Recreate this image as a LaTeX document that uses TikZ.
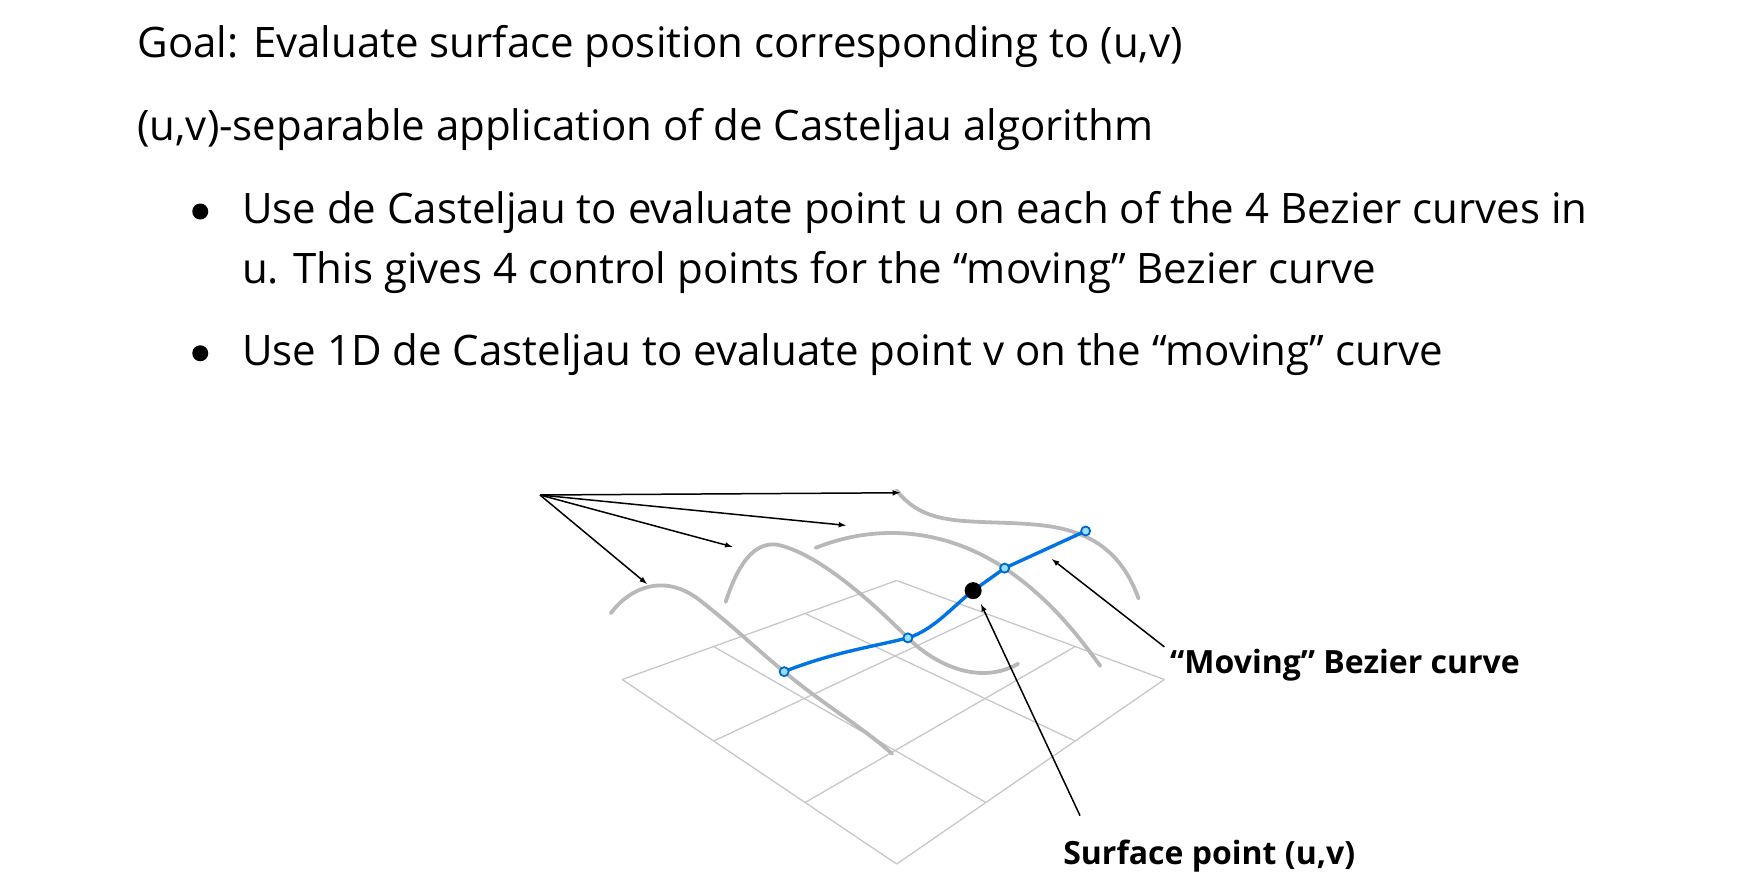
\documentclass[tikz,border=0pt]{standalone}
\usepackage{fontspec}
\setmainfont{Open Sans}
\usetikzlibrary{calc}
\begin{document}
\begin{tikzpicture}[x=1.125pt,y=-1.125pt,
  txt/.style={anchor=base west,inner sep=0,font=\fontsize{42}{48}\selectfont},
  lbl/.style={anchor=base west,inner sep=0,font=\fontsize{32}{36}\selectfont\bfseries},
  gridl/.style={draw=black!22,line width=1.3pt},
  gc/.style={draw=black!28,line width=3.8pt,line cap=round},
  ar/.style={-latex,line width=1.5pt},
  bul/.style={circle,fill=black,inner sep=0,minimum size=16pt},
  ring/.style={circle,draw=blue!50!cyan!80!black,fill=blue!30!cyan!40,line width=1.8pt,inner sep=0,minimum size=9pt}]
\useasboundingbox (0,0) rectangle (1560,777);
\node[txt] (t1) at (122,51) {Goal: Evaluate surface position corresponding to (u,v)};
\node[txt] (t2) at (122,125) {(u,v)-separable application of de Casteljau algorithm};
\node[bul] (b1) at (178,188) {};
\node[txt] (t3) at (215,199) {Use de Casteljau to evaluate point u on each of the 4 Bezier curves in};
\node[txt] (t4) at (215,252) {u. This gives 4 control points for the “moving” Bezier curve};
\node[bul] (b2) at (178,314) {};
\node[txt] (t5) at (215,325) {Use 1D de Casteljau to evaluate point v on the “moving” curve};
% grid
\coordinate (L) at (553,604); \coordinate (T) at (797,516);
\coordinate (R) at (1035,604); \coordinate (B) at (797,768);
\foreach \i in {0,1,2,3}{
  \draw[gridl] ($(L)!\i/3!(B)$) -- ($(T)!\i/3!(R)$);
  \draw[gridl] ($(L)!\i/3!(T)$) -- ($(B)!\i/3!(R)$);
}
% gray curves
\draw[gc] (543,545) .. controls (560,522) and (590,510) .. (620,532) .. controls (650,555) and (670,575) .. (697,597) .. controls (730,625) and (765,645) .. (793,670);
\draw[gc] (645,535) .. controls (655,505) and (668,482) .. (690,484) .. controls (720,490) and (760,520) .. (807,567) .. controls (830,590) and (870,610) .. (905,590);
\draw[gc] (725,487) .. controls (780,465) and (840,470) .. (893,505) .. controls (930,530) and (955,560) .. (978,592);
\draw[gc] (797,436) .. controls (820,465) and (850,463) .. (900,465) .. controls (940,467) and (990,470) .. (1012,532);
% moving curve
\coordinate (p0) at (697,597); \coordinate (p1) at (807,567);
\coordinate (p3) at (893,505); \coordinate (p4) at (965,472);
\draw[draw=blue!50!cyan!90!black,line width=3.4pt] (p0) .. controls (740,580) and (775,575) .. (p1) .. controls (830,560) and (848,538) .. (865,525) -- (p3) -- (p4);
\foreach \p in {p0,p1,p3,p4}{\node[ring] at (\p) {};}
\node[circle,fill=black,inner sep=0,minimum size=17pt] (sp) at (865,525) {};
% arrows
\coordinate (o) at (480,440);
\draw[ar] (o) -- (800,438);
\draw[ar] (o) -- (752,467);
\draw[ar] (o) -- (651,486);
\draw[ar] (o) -- (575,519);
\node[lbl] (m) at (1040,599) {“Moving” Bezier curve};
\node[lbl] (s) at (945,768) {Surface point (u,v)};
\coordinate (ms) at (1035,575); \coordinate (ss) at (960,725);
\draw[ar] (ms) -- (935,497);
\draw[ar] (ss) -- (872,537);
\end{tikzpicture}
\end{document}
